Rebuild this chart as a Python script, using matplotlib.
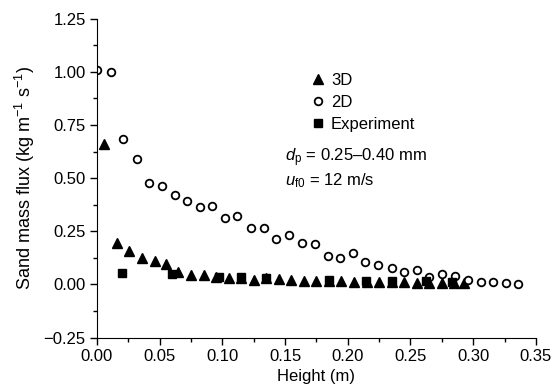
import matplotlib
matplotlib.use('Agg')
import matplotlib.pyplot as plt
from matplotlib.ticker import MultipleLocator

plt.rcParams['font.family'] = 'Liberation Sans'
plt.rcParams['mathtext.fontset'] = 'custom'
plt.rcParams['mathtext.rm'] = 'Liberation Sans'
plt.rcParams['mathtext.it'] = 'Liberation Sans:italic'
plt.rcParams['font.size'] = 12

# 3D simulation
h_3d = [0.006, 0.016, 0.026, 0.036, 0.046, 0.055, 0.065, 0.075, 0.085, 0.095,
        0.105, 0.115, 0.125, 0.135, 0.145, 0.155, 0.165, 0.175, 0.185, 0.195,
        0.205, 0.215, 0.225, 0.235, 0.245, 0.255, 0.265, 0.275, 0.285, 0.293]
q_3d = [0.66, 0.193, 0.157, 0.125, 0.110, 0.097, 0.059, 0.045, 0.045, 0.036,
        0.028, 0.032, 0.022, 0.030, 0.025, 0.020, 0.018, 0.017, 0.018, 0.015,
        0.012, 0.012, 0.010, 0.010, 0.009, 0.008, 0.008, 0.007, 0.006, 0.005]

# 2D simulation
h_2d = [0.0, 0.011, 0.021, 0.032, 0.0415, 0.052, 0.062, 0.072, 0.082, 0.092,
        0.102, 0.112, 0.1225, 0.133, 0.143, 0.153, 0.1635, 0.174, 0.184, 0.194,
        0.204, 0.214, 0.224, 0.235, 0.245, 0.255, 0.265, 0.275, 0.2855, 0.296,
        0.306, 0.316, 0.326, 0.336]
q_2d = [1.01, 0.998, 0.684, 0.588, 0.476, 0.465, 0.422, 0.391, 0.364, 0.369,
        0.314, 0.322, 0.266, 0.265, 0.216, 0.234, 0.196, 0.191, 0.136, 0.122,
        0.147, 0.104, 0.089, 0.075, 0.058, 0.066, 0.037, 0.048, 0.040, 0.020,
        0.012, 0.011, 0.008, 0.002]

# experiment
h_exp = [0.020, 0.060, 0.097, 0.115, 0.135, 0.185, 0.2145, 0.235, 0.262, 0.283]
q_exp = [0.055, 0.047, 0.037, 0.036, 0.030, 0.022, 0.018, 0.016, 0.014, 0.012]

fig = plt.figure(figsize=(5.6, 3.92), dpi=100)
ax = fig.add_axes([0.173, 0.139, 0.784, 0.813])

ax.plot(h_3d, q_3d, '^', color='black', markersize=7, label='3D')
ax.plot(h_2d, q_2d, 'o', mfc='white', mec='black', mew=1.3, markersize=5.5, label='2D')
ax.plot(h_exp, q_exp, 's', color='black', markersize=5.5, label='Experiment')

ax.set_xlim(0, 0.35)
ax.set_ylim(-0.25, 1.25)
ax.xaxis.set_major_locator(MultipleLocator(0.05))
ax.xaxis.set_minor_locator(MultipleLocator(0.025))
ax.yaxis.set_major_locator(MultipleLocator(0.25))
ax.yaxis.set_minor_locator(MultipleLocator(0.125))
ax.xaxis.set_major_formatter(plt.FormatStrFormatter('%.2f'))
ax.yaxis.set_major_formatter(plt.FuncFormatter(lambda v, p: ('%.2f' % v).replace('-', '\u2212')))
ax.tick_params(which='major', direction='out', length=5, width=1, pad=3)
ax.tick_params(which='minor', direction='out', length=3, width=1)
ax.spines['top'].set_visible(False)
ax.spines['right'].set_visible(False)

ax.set_xlabel('Height (m)', labelpad=4)
ax.set_ylabel('Sand mass flux (kg m$^{\u22121}$ s$^{\u22121}$)', fontsize=13, labelpad=5)

ax.legend(loc='upper left', bbox_to_anchor=(0.465, 0.85), frameon=False,
          handletextpad=0.2, labelspacing=0.4, handlelength=1.2, borderaxespad=0)

ax.text(0.428, 0.565, '$d_\\mathrm{p}$ = 0.25\u20130.40 mm', transform=ax.transAxes, va='center')
ax.text(0.428, 0.493, '$u_\\mathrm{f0}$ = 12 m/s', transform=ax.transAxes, va='center')

fig.savefig('out.png', dpi=100)
